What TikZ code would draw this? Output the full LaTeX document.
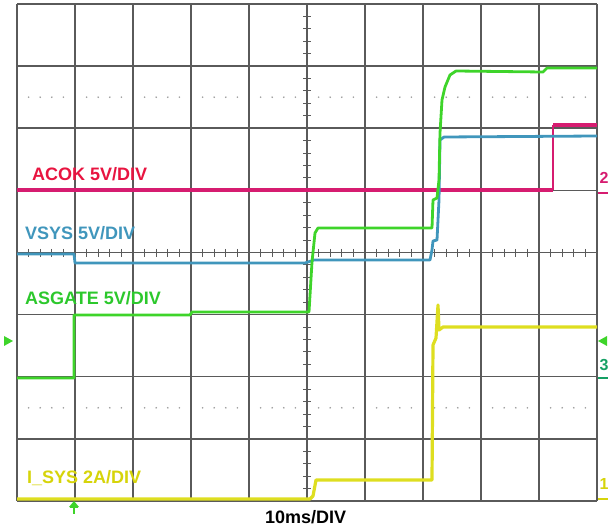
\documentclass[tikz,border=0pt]{standalone}
\usepackage{fontspec}
\setmainfont{Liberation Sans}
\definecolor{gridgray}{RGB}{90,90,90}
\definecolor{acoktrace}{RGB}{214,28,112}
\definecolor{acoktext}{RGB}{232,20,64}
\definecolor{vsysblue}{RGB}{64,150,188}
\definecolor{asgreen}{RGB}{62,212,42}
\definecolor{asgreentext}{RGB}{44,200,44}
\definecolor{isysyellow}{RGB}{222,222,32}
\definecolor{isystext}{RGB}{214,212,10}
\definecolor{chthree}{RGB}{20,160,100}
\begin{document}
\begin{tikzpicture}[x=1pt,y=-1pt,
    gridline/.style={draw=gridgray,line width=1.5pt},
    scaletick/.style={draw=gridgray,line width=1pt},
    trace/.style={line width=2.8pt,line join=round},
    tracelabel/.style={font=\fontsize{18}{20}\selectfont\bfseries,inner sep=0pt,anchor=base west},
    chmark/.style={font=\fontsize{16}{18}\selectfont\bfseries,inner sep=0pt}]
  \useasboundingbox (0,0) rectangle (608,529);
  \pgfmathsetmacro{\hdiv}{58}
  \pgfmathsetmacro{\vdiv}{62.125}

  \foreach \i in {0,...,10}{
      \draw[gridline] (17+\i*\hdiv,4) -- (17+\i*\hdiv,501);
  }
  \foreach \j in {0,...,8}{
      \draw[gridline] (17,4+\j*\vdiv) -- (597,4+\j*\vdiv);
  }
  \foreach \k in {1,...,39}{
      \draw[scaletick] (303,4+\k*\vdiv/5) -- (311,4+\k*\vdiv/5);
  }
  \foreach \k in {1,...,49}{
      \draw[scaletick] (17+\k*\hdiv/5,249) -- (17+\k*\hdiv/5,257);
  }
  \foreach \i in {0,...,9}{
      \foreach \j in {1,...,4}{
          \fill[gray!80] (17+\i*\hdiv+\j*\hdiv/5,4+1.5*\vdiv) circle (0.9);
          \fill[gray!80] (17+\i*\hdiv+\j*\hdiv/5,4+6.5*\vdiv) circle (0.9);
      }
  }

  \draw[trace,isysyellow,line width=3.2pt] (17,499) -- (310,499) -- (313,496) -- (316,480) -- (432,480)
      -- (433,345) -- (436,338) -- (438,305) -- (439,330) -- (443,327) -- (597,327);
  \draw[trace,acoktrace,line width=3.2pt] (17,190) -- (553,190);
  \draw[acoktrace,line width=1.5pt] (553,190) -- (553,125);
  \draw[trace,acoktrace,line width=3.8pt] (553,125) -- (597,125);
  \draw[trace,vsysblue] (17,254) -- (74,254) -- (75,263) -- (305,263) -- (314,260) -- (430,260)
      -- (432,250) -- (433,241) -- (437,240) -- (439,200) -- (440,140) -- (444,137) -- (597,136);
  \draw[trace,asgreen] (17,378) -- (74,378) -- (74,315) -- (190,315) -- (192,312) -- (309,312)
      -- (312,262) -- (315,233) -- (318,228) -- (432,228) -- (433,200) -- (437,198) -- (439,180)
      -- (440,133) -- (442,100) -- (445,87) -- (450,75) -- (456,71) -- (543,72) -- (547,68) -- (597,68);

  \node[tracelabel,text=acoktext] (acoklabel) at (32,181) {ACOK 5V/DIV};
  \node[tracelabel,text=vsysblue] (vsyslabel) at (25,240) {VSYS 5V/DIV};
  \node[tracelabel,text=asgreentext] (asgatelabel) at (25,305) {ASGATE 5V/DIV};
  \node[tracelabel,text=isystext] (isyslabel) at (27,483) {I\_SYS 2A/DIV};
  \node[tracelabel,text=black] (timelabel) at (265,523) {10ms/DIV};

  \node[chmark,text=acoktrace] (chtwo) at (604,178) {2};
  \draw[acoktrace,line width=1.2pt] (598,193) -- (608,193);
  \node[chmark,text=chthree] (chthreelabel) at (604,365) {3};
  \draw[chthree,line width=1.2pt] (598,378) -- (608,378);
  \node[chmark,text=isystext] (chone) at (604,484) {1};
  \draw[isystext,line width=1.2pt] (598,499) -- (608,499);

  \fill[asgreen] (598,341) -- (607,336) -- (607,346) -- cycle;
  \fill[asgreen] (13,341) -- (4,336) -- (4,346) -- cycle;
  \fill[asgreen] (74,501) -- (69,507) -- (79,507) -- cycle;
  \draw[asgreen,line width=2.4pt] (74,505) -- (74,514);
  \draw[asgreen,line width=1.6pt] (70,507) -- (78,507);
\end{tikzpicture}
\end{document}
